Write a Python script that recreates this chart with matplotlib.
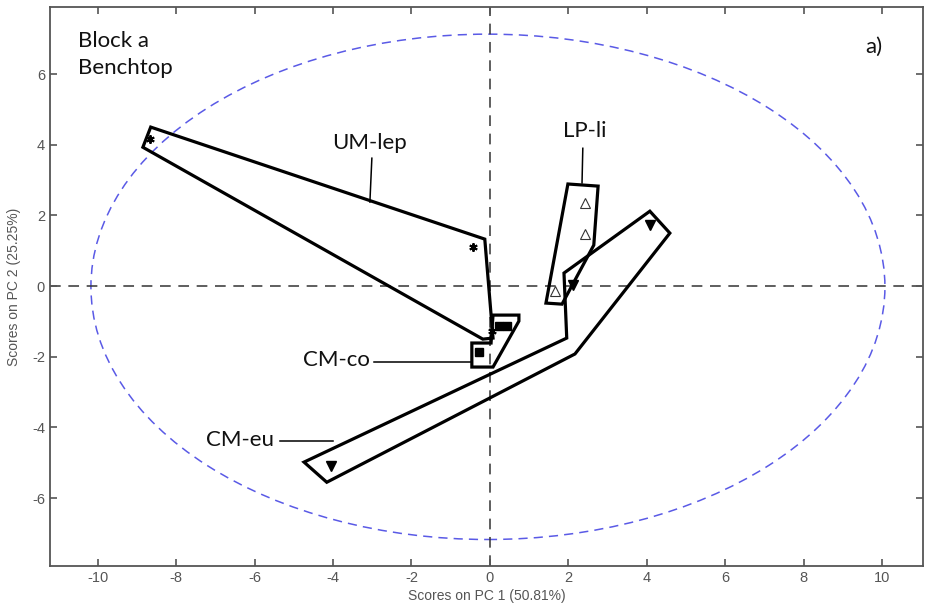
import matplotlib
matplotlib.use("Agg")
import matplotlib.pyplot as plt
from matplotlib.patches import Ellipse, Polygon
import numpy as np

plt.rcParams["axes.unicode_minus"] = False

# PCA scores (PC1, PC2) per group
um_lep_x = [-8.67, -0.43, 0.05]
um_lep_y = [4.16, 1.10, -1.27]
cm_co_x = [0.23, 0.43, -0.28]
cm_co_y = [-1.13, -1.13, -1.87]
cm_eu_x = [-4.06, 2.12, 4.08]
cm_eu_y = [-5.10, 0.03, 1.73]
lp_li_x = [2.42, 2.42, 1.66]
lp_li_y = [2.35, 1.47, -0.14]

# Group outlines (vertices in score units)
um_lep_hull = [(-8.65, 4.50), (-0.13, 1.33), (0.08, -1.47), (-0.18, -1.50), (-8.85, 3.93)]
cm_co_hull = [(0.08, -0.82), (0.74, -0.82), (0.74, -0.99), (0.08, -2.29), (-0.46, -2.29),
              (-0.46, -1.61), (0.03, -1.61)]
cm_eu_hull = [(4.08, 2.12), (4.59, 1.50), (2.17, -1.92), (-4.16, -5.55), (-4.74, -4.98),
              (1.96, -1.47), (1.89, 0.37)]
lp_li_hull = [(1.99, 2.89), (2.76, 2.83), (2.65, 1.16), (1.84, -0.51), (1.43, -0.48)]

# Confidence ellipse
ell_center = (-0.05, -0.02)
ell_width = 20.25
ell_height = 14.3

fig = plt.figure(figsize=(9.25, 6.09), dpi=100)
ax = fig.add_axes([0.054, 0.0706, 0.944, 0.918])
ax.set_xlim(-11.22, 11.05)
ax.set_ylim(-7.92, 7.9)

grey = "#555555"
ax.add_patch(Ellipse(ell_center, ell_width, ell_height, fill=False,
                     edgecolor="#5a5ae6", lw=1.1, ls=(0, (6, 4))))
ax.axhline(0, color="#333333", lw=1.1, ls=(0, (7, 5)), zorder=1)
ax.axvline(0, color="#333333", lw=1.1, ls=(0, (7, 5)), zorder=1)

for hull in (um_lep_hull, cm_co_hull, cm_eu_hull, lp_li_hull):
    ax.add_patch(Polygon(hull, closed=True, fill=False, edgecolor="black",
                         lw=2.3, joinstyle="miter", zorder=3))

ax.plot(um_lep_x, um_lep_y, ls="none", marker=(6, 2, 0), ms=6, mew=1.4,
        color="black", zorder=4)
ax.plot(cm_co_x, cm_co_y, ls="none", marker="s", ms=6, color="black", zorder=4)
ax.plot(cm_eu_x, cm_eu_y, ls="none", marker="v", ms=7, color="black", zorder=4)
ax.plot(lp_li_x, lp_li_y, ls="none", marker="^", ms=7, mfc="white",
        mec="#333333", mew=0.8, zorder=4)

label_font = dict(family=["Lato", "DejaVu Sans"], fontsize=16, color="#111111")
ax.text(-3.06, 4.05, "UM-lep", ha="center", va="center", **label_font)
ax.plot([-3.01, -3.06], [3.62, 2.38], color="black", lw=1.1)
ax.text(2.42, 4.40, "LP-li", ha="center", va="center", **label_font)
ax.plot([2.37, 2.35], [3.90, 2.92], color="black", lw=1.1)
ax.text(-3.05, -2.09, "CM-co", ha="right", va="center", **label_font)
ax.plot([-2.96, -0.48], [-2.15, -2.15], color="black", lw=1.1)
ax.text(-5.5, -4.36, "CM-eu", ha="right", va="center", **label_font)
ax.plot([-5.36, -4.0], [-4.39, -4.39], color="black", lw=1.1)

ax.text(0.032, 0.957, "Block a\nBenchtop", transform=ax.transAxes, ha="left",
        va="top", linespacing=1.45, **label_font)
ax.text(0.943, 0.929, "a)", transform=ax.transAxes, ha="center", va="center",
        **label_font)

ax.set_xticks(np.arange(-10, 11, 2))
ax.set_yticks(np.arange(-6, 7, 2))
ax.tick_params(direction="in", top=True, right=True, length=5, width=1.2,
               color=grey, labelcolor=grey, labelsize=10.5)
for lab in ax.get_xticklabels() + ax.get_yticklabels():
    lab.set_family("Liberation Sans")
for sp in ax.spines.values():
    sp.set_color(grey)
    sp.set_linewidth(1.3)

ax.set_xlabel("Scores on PC 1 (50.81%)", family="Liberation Sans", fontsize=10,
              color=grey, labelpad=3)
ax.set_ylabel("Scores on PC 2 (25.25%)", family="Liberation Sans", fontsize=10,
              color=grey, labelpad=8)

fig.savefig("out.png", dpi=100)
